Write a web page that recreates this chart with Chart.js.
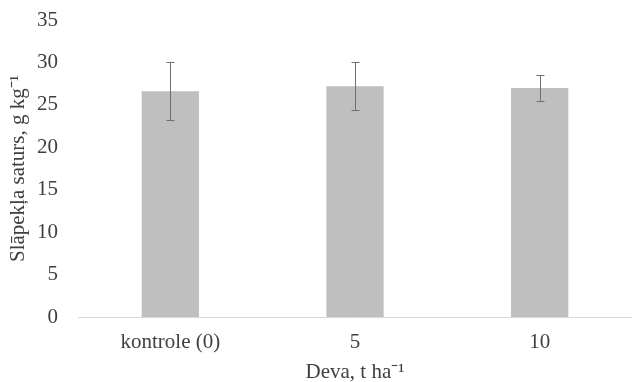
<!DOCTYPE html>
<html>
<head>
<meta charset="utf-8">
<script src="https://cdn.jsdelivr.net/npm/chart.js@4"></script>
<style>
  html, body { margin: 0; padding: 0; background: #fff; }
  #wrap { width: 632px; height: 382px; }
</style>
</head>
<body>
<div id="wrap"><canvas id="c" width="632" height="382"></canvas></div>
<script>
const categories = ['kontrole (0)', '5', '10'];
const values = [26.6, 27.2, 27.0];
const errors = [3.4, 2.8, 1.5];

// draws the error whiskers on top of each bar
const errorBars = {
    id: 'errorBars',
    afterDatasetsDraw(chart) {
        const ctx = chart.ctx;
        const y = chart.scales.y;
        const meta = chart.getDatasetMeta(0);
        ctx.save();
        ctx.strokeStyle = '#6f6f6f';
        ctx.lineWidth = 1;
        meta.data.forEach((bar, i) => {
            const top = Math.round(y.getPixelForValue(values[i] + errors[i])) + 0.5;
            const bottom = Math.round(y.getPixelForValue(values[i] - errors[i])) + 0.5;
            const x = Math.round(bar.x) + 0.5;
            ctx.beginPath();
            ctx.moveTo(x, top);
            ctx.lineTo(x, bottom);
            ctx.moveTo(x - 4, top);
            ctx.lineTo(x + 4, top);
            ctx.moveTo(x - 4, bottom);
            ctx.lineTo(x + 4, bottom);
            ctx.stroke();
        });
        ctx.restore();
    }
};

const font = { family: 'Liberation Serif', size: 21, lineHeight: 1 };

new Chart(document.getElementById('c').getContext('2d'), {
    type: 'bar',
    data: {
        labels: categories,
        datasets: [{
            data: values,
            backgroundColor: '#bfbfbf',
            categoryPercentage: 1,
            barPercentage: 0.31
        }]
    },
    options: {
        responsive: false,
        animation: false,
        // chart.js reserves tick padding on both sides of the labels,
        // so the titles get negative padding to pull them back in
        layout: { padding: { top: 0, right: -6, left: 8, bottom: 0 } },
        plugins: {
            legend: { display: false },
            tooltip: { enabled: false }
        },
        scales: {
            x: {
                grid: { display: false, drawTicks: false },
                border: { color: '#d9d9d9', width: 1 },
                ticks: {
                    color: '#404040',
                    padding: 15,
                    font: font
                },
                title: {
                    display: true,
                    text: 'Deva, t ha\u207B\u00B9',
                    color: '#404040',
                    padding: { top: -6, bottom: -1 },
                    font: font
                }
            },
            y: {
                min: 0,
                max: 35,
                afterFit: function(scale) {
                    // keep the top label close to the canvas edge
                    scale.paddingTop = 20;
                },
                ticks: {
                    stepSize: 5,
                    color: '#404040',
                    padding: 20,
                    font: font
                },
                grid: { display: false, drawTicks: false },
                border: { display: false },
                title: {
                    display: true,
                    text: 'Slāpekļa saturs, g kg\u207B\u00B9',
                    color: '#404040',
                    padding: { top: 0, bottom: -12 },
                    font: font
                }
            }
        }
    },
    plugins: [errorBars]
});
</script>
</body>
</html>
